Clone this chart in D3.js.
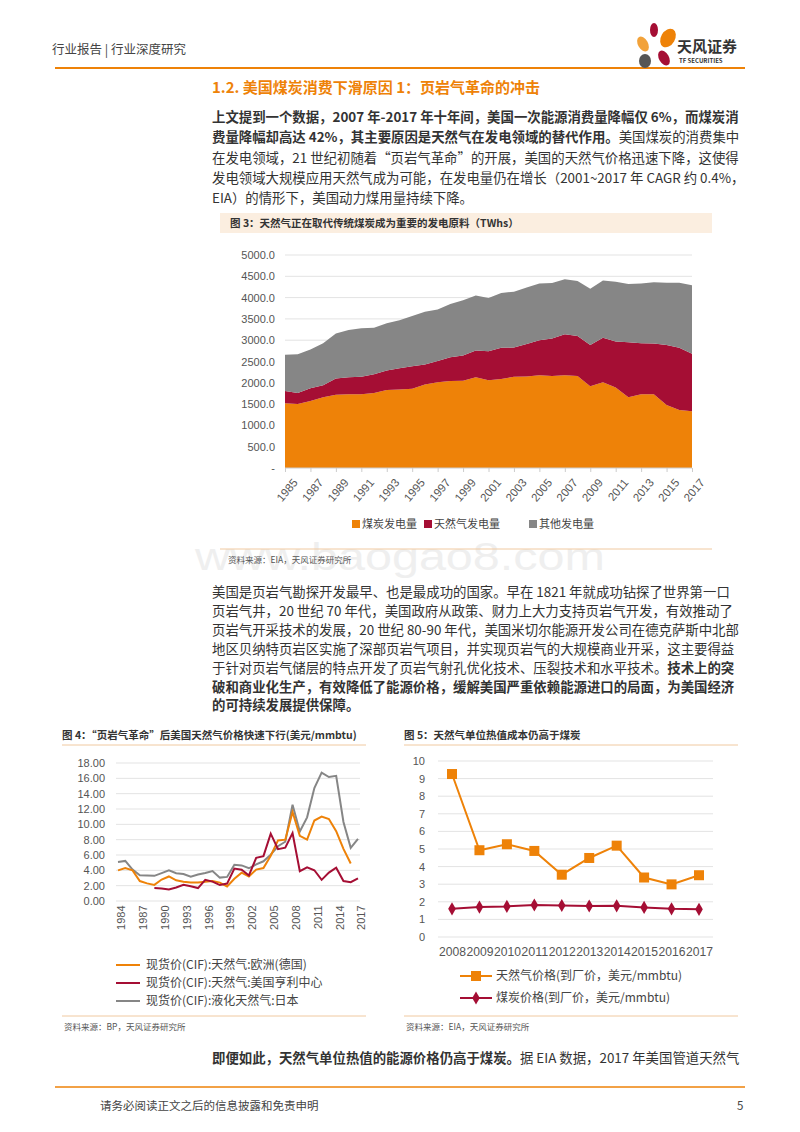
<!DOCTYPE html>
<html><head><meta charset="utf-8">
<script src="https://cdn.jsdelivr.net/npm/d3@7"></script>
<style>body{margin:0;background:#fff}svg{display:block;font-family:"Noto Sans CJK SC","Noto Sans",sans-serif}</style>
</head><body><svg id="p" width="800" height="1132"></svg>
<script>
// ---- Figure 3 data (TWh) ----
const years3 = d3.range(1985, 2018);
const coal = [1520,1500,1570,1660,1720,1730,1730,1760,1830,1840,1860,1960,2010,2040,2050,2130,2060,2090,2140,2150,2180,2160,2180,2160,1920,2010,1890,1660,1730,1730,1480,1360,1330];
const gas = [290,260,300,280,380,400,410,440,460,500,530,470,500,560,590,630,680,730,690,760,820,880,960,940,970,1050,1080,1290,1200,1190,1410,1460,1350];
const other = [850,910,910,990,1060,1110,1140,1090,1110,1130,1180,1240,1210,1250,1300,1290,1250,1290,1310,1330,1330,1300,1290,1290,1320,1340,1400,1370,1400,1440,1460,1530,1610];
const names3 = ["煤炭发电量","天然气发电量","其他发电量"];
const ticks3 = [0,500,1000,1500,2000,2500,3000,3500,4000,4500,5000];
// ---- Figure 4 data ($/mmbtu) ----
const years4 = d3.range(1984, 2018);
const europe = [4.0,4.3,4.0,2.6,2.3,2.1,2.8,3.2,2.7,2.5,2.4,2.4,2.5,2.6,2.4,1.9,2.9,3.7,3.2,4.1,4.3,5.9,7.9,8.0,11.6,8.5,8.0,10.5,11.0,10.7,9.1,6.8,4.9,null];
const henry = [null,null,null,null,null,1.70,1.64,1.49,1.77,2.12,1.92,1.69,2.76,2.53,2.08,2.27,4.23,4.07,3.33,5.63,5.85,8.79,6.76,6.95,8.85,3.89,4.39,4.01,2.76,3.71,4.35,2.60,2.46,2.96];
const japan = [5.10,5.23,4.10,3.35,3.34,3.28,3.64,3.99,3.62,3.52,3.18,3.46,3.66,3.91,3.05,3.14,4.72,4.64,4.27,4.77,5.18,6.05,7.14,7.73,12.55,9.06,10.91,14.73,16.75,16.17,16.33,10.31,6.94,8.10];
const names4 = ["现货价(CIF):天然气:欧洲(德国)","现货价(CIF):天然气:美国亨利中心","现货价(CIF):液化天然气:日本"];
// ---- Figure 5 data ----
const years5 = d3.range(2008, 2018);
const gasPrice = [9.26,4.93,5.27,4.89,3.54,4.49,5.19,3.38,2.99,3.51];
const coalPrice = [1.60,1.70,1.74,1.82,1.79,1.76,1.77,1.68,1.60,1.57];
const names5 = ["天然气价格(到厂价，美元/mmbtu)","煤炭价格(到厂价，美元/mmbtu)"];

const ORANGE="#ee8208", RED="#a50e34", GREY="#868686", TXT="#333";
const svg = d3.select("#p");
function text(x,y,s,o={}){const t=svg.append("text").attr("x",x).attr("y",y).attr("font-size",o.size||13).attr("fill",o.fill||TXT).attr("text-anchor",o.anchor||"start").text(s);if(o.bold)t.attr("font-weight","bold");return t;}
function rich(x,y,parts,size=13.4){const t=svg.append("text").attr("x",x).attr("y",y).attr("font-size",size).attr("fill",TXT);parts.forEach(p=>t.append("tspan").attr("font-weight",p[1]?"bold":"normal").text(p[0]));}

// header
text(52,54,"行业报告 | 行业深度研究",{size:12.5,fill:"#444"});
svg.append("line").attr("x1",55).attr("x2",745).attr("y1",68).attr("y2",68).attr("stroke",ORANGE).attr("stroke-width",2);
const lg=svg.append("g");
lg.append("ellipse").attr("cx",643).attr("cy",44).attr("rx",5).attr("ry",8).attr("fill","#f2a23a").attr("transform","rotate(-30,643,44)");
lg.append("ellipse").attr("cx",654).attr("cy",30).attr("rx",4).attr("ry",7).attr("fill",RED);
lg.append("ellipse").attr("cx",668).attr("cy",38).attr("rx",7).attr("ry",10).attr("fill",ORANGE).attr("transform","rotate(30,668,38)");
lg.append("ellipse").attr("cx",645).attr("cy",61).attr("rx",6).attr("ry",7).attr("fill","#555");
lg.append("ellipse").attr("cx",664).attr("cy",58).attr("rx",5).attr("ry",8).attr("fill",RED).attr("transform","rotate(-30,664,58)");
text(677,52,"天风证券",{size:15,bold:true,fill:"#333"});
text(679,63,"TF SECURITIES",{size:6,bold:true,fill:"#333"});
text(212,93,"1.2. 美国煤炭消费下滑原因 1：页岩气革命的冲击",{size:15,bold:true,fill:ORANGE});

rich(212,122,[["上文提到一个数据，2007 年-2017 年十年间，美国一次能源消费量降幅仅 6%，而煤炭消",1]]);
rich(212,142,[["费量降幅却高达 42%，其主要原因是天然气在发电领域的替代作用。",1],["美国煤炭的消费集中",0]]);
rich(212,163,[["在发电领域，21 世纪初随着“页岩气革命”的开展，美国的天然气价格迅速下降，这使得",0]]);
rich(212,183,[["发电领域大规模应用天然气成为可能，在发电量仍在增长（2001~2017 年 CAGR 约 0.4%，",0]]);
rich(212,203,[["EIA）的情形下，美国动力煤用量持续下降。",0]]);

svg.append("rect").attr("x",220).attr("y",213).attr("width",492).attr("height",20).attr("fill","#fbeee0");
text(230,227,"图 3：天然气正在取代传统煤炭成为重要的发电原料（TWhs）",{size:10.5,bold:true,fill:"#333"});

// watermark (behind)
text(400,570,"www.baogao8.com",{size:38,fill:"#efefef",anchor:"middle"}).attr("font-family","Liberation Sans, Arial").attr("textLength",410).attr("lengthAdjust","spacingAndGlyphs");

{
 const x=d3.scalePoint().domain(years3).range([285,692]);
 const y=d3.scaleLinear().domain([0,5000]).range([468,255]);
 const g=svg.append("g");
 g.selectAll(".gl").data(ticks3.slice(1)).join("line").attr("x1",285).attr("x2",692).attr("y1",d=>y(d)).attr("y2",d=>y(d)).attr("stroke","#e3e3e3");
 const rows=years3.map((yr,i)=>({yr,a:coal[i],b:gas[i],c:other[i]}));
 const st=d3.stack().keys(["a","b","c"])(rows);
 const area=d3.area().x(d=>x(d.data.yr)).y0(d=>y(d[0])).y1(d=>y(d[1]));
 const cols=[ORANGE,RED,GREY];
 g.selectAll(".ar").data(st).join("path").attr("d",area).attr("fill",(d,i)=>cols[i]);
 const ya=g.append("g").attr("transform","translate(278,0)").call(d3.axisLeft(y).tickValues(ticks3).tickSize(0).tickFormat(d=>d===0?"-":d.toFixed(1)));
 ya.select(".domain").remove(); ya.selectAll("text").attr("font-size",11).attr("fill","#555").attr("font-family","Liberation Sans, Arial");
 g.append("line").attr("x1",285).attr("x2",692).attr("y1",468).attr("y2",468).attr("stroke","#ccc");
 const xa=g.append("g").attr("transform","translate(0,468)").call(d3.axisBottom(x).tickValues(years3.filter(d=>d%2===1)).tickSize(4));
 xa.select(".domain").remove(); xa.selectAll("line").attr("stroke","#ccc");
 xa.selectAll("text").attr("font-size",11.5).attr("fill","#555").attr("font-family","Liberation Sans, Arial").attr("text-anchor","end").attr("transform","translate(6,6) rotate(-50)").attr("dy","0.35em").attr("dx","-0.2em");
 const lx=[352,424,529];
 names3.forEach((n,i)=>{svg.append("rect").attr("x",lx[i]).attr("y",520).attr("width",8).attr("height",8).attr("fill",cols[i]);text(lx[i]+10,528,n,{size:11,fill:"#444"});});
}
svg.append("line").attr("x1",220).attr("x2",712).attr("y1",549).attr("y2",549).attr("stroke","#f0c9a0");
text(228,563,"资料来源：EIA，天风证券研究所",{size:8.5,fill:"#555"});

const p2=[[["美国是页岩气勘探开发最早、也是最成功的国家。早在 1821 年就成功钻探了世界第一口",0]],
[["页岩气井，20 世纪 70 年代，美国政府从政策、财力上大力支持页岩气开发，有效推动了",0]],
[["页岩气开采技术的发展，20 世纪 80-90 年代，美国米切尔能源开发公司在德克萨斯中北部",0]],
[["地区贝纳特页岩区实施了深部页岩气项目，并实现页岩气的大规模商业开采，这主要得益",0]],
[["于针对页岩气储层的特点开发了页岩气射孔优化技术、压裂技术和水平技术。",0],["技术上的突",1]],
[["破和商业化生产，有效降低了能源价格，缓解美国严重依赖能源进口的局面，为美国经济",1]],
[["的可持续发展提供保障。",1]]];
p2.forEach((l,i)=>rich(212,597+i*18.9,l));

text(62,739,"图 4：“页岩气革命”后美国天然气价格快速下行(美元/mmbtu)",{size:10.5,bold:true,fill:"#333"});
text(404,739,"图 5：天然气单位热值成本仍高于煤炭",{size:10.5,bold:true,fill:"#333"});
svg.append("line").attr("x1",62).attr("x2",366).attr("y1",745).attr("y2",745).attr("stroke","#f0c9a0");
svg.append("line").attr("x1",404).attr("x2",738).attr("y1",745).attr("y2",745).attr("stroke","#f0c9a0");

{
 const x=d3.scalePoint().domain(years4).range([118,358]);
 const y=d3.scaleLinear().domain([0,18]).range([901,763]);
 const g=svg.append("g");
 const tk=d3.range(0,19,2);
 g.selectAll(".gl").data(tk).join("line").attr("x1",116).attr("x2",360).attr("y1",d=>y(d)).attr("y2",d=>y(d)).attr("stroke","#e3e3e3");
 const ya=g.append("g").attr("transform","translate(108,0)").call(d3.axisLeft(y).tickValues(tk).tickSize(0).tickFormat(d=>d.toFixed(2)));
 ya.select(".domain").remove(); ya.selectAll("text").attr("font-size",11).attr("fill","#555").attr("font-family","Liberation Sans, Arial");
 const xa=g.append("g").attr("transform","translate(0,901)").call(d3.axisBottom(x).tickValues(years4.filter(d=>(d-1984)%3===0)).tickSize(0));
 xa.select(".domain").remove();
 xa.selectAll("text").attr("font-size",11).attr("fill","#555").attr("font-family","Liberation Sans, Arial").attr("text-anchor","end").attr("transform","rotate(-90)").attr("dx","-0.4em").attr("dy","0.35em");
 const ser=[[europe,ORANGE],[henry,RED],[japan,GREY]];
 const line=d3.line().defined(d=>d[1]!=null).x(d=>x(d[0])).y(d=>y(d[1]));
 [2,0,1].forEach(k=>{const [v,c]=ser[k];g.append("path").attr("d",line(years4.map((yr,i)=>[yr,v[i]]))).attr("fill","none").attr("stroke",c).attr("stroke-width",2);});
 names4.forEach((n,i)=>{const yy=965+i*18;svg.append("line").attr("x1",116).attr("x2",140).attr("y1",yy).attr("y2",yy).attr("stroke",ser[i][1]).attr("stroke-width",2);text(146,yy+4,n,{size:12,fill:"#444"});});
}
{
 const x=d3.scalePoint().domain(years5).range([452,699]);
 const y=d3.scaleLinear().domain([0,10]).range([937,761]);
 const g=svg.append("g");
 const tk=d3.range(0,11);
 g.selectAll(".gl").data(tk).join("line").attr("x1",438).attr("x2",713).attr("y1",d=>y(d)).attr("y2",d=>y(d)).attr("stroke","#e3e3e3");
 const ya=g.append("g").attr("transform","translate(428,0)").call(d3.axisLeft(y).tickValues(tk).tickSize(0));
 ya.select(".domain").remove(); ya.selectAll("text").attr("font-size",11).attr("fill","#555").attr("font-family","Liberation Sans, Arial");
 const xa=g.append("g").attr("transform","translate(0,944)").call(d3.axisBottom(x).tickSize(0));
 xa.select(".domain").remove();
 xa.selectAll("text").attr("font-size",12).attr("fill","#555").attr("font-family","Liberation Sans, Arial").attr("textLength",27).attr("lengthAdjust","spacingAndGlyphs");
 const line=d3.line().x(d=>x(d[0])).y(d=>y(d[1]));
 g.append("path").attr("d",line(years5.map((yr,i)=>[yr,coalPrice[i]]))).attr("fill","none").attr("stroke",RED).attr("stroke-width",2);
 g.selectAll(".dm").data(years5).join("path").attr("d",d3.symbol(d3.symbolDiamond,50)).attr("transform",(d,i)=>`translate(${x(d)},${y(coalPrice[i])})`).attr("fill",RED);
 g.append("path").attr("d",line(years5.map((yr,i)=>[yr,gasPrice[i]]))).attr("fill","none").attr("stroke",ORANGE).attr("stroke-width",2);
 g.selectAll(".sq").data(years5).join("rect").attr("x",d=>x(d)-5).attr("y",(d,i)=>y(gasPrice[i])-5).attr("width",10).attr("height",10).attr("fill",ORANGE);
 svg.append("line").attr("x1",460).attr("x2",492).attr("y1",976).attr("y2",976).attr("stroke",ORANGE).attr("stroke-width",2);
 svg.append("rect").attr("x",471).attr("y",971).attr("width",10).attr("height",10).attr("fill",ORANGE);
 text(496,980,names5[0],{size:12,fill:"#444"});
 svg.append("line").attr("x1",460).attr("x2",492).attr("y1",998).attr("y2",998).attr("stroke",RED).attr("stroke-width",2);
 svg.append("path").attr("d",d3.symbol(d3.symbolDiamond,50)).attr("transform","translate(476,998)").attr("fill",RED);
 text(496,1002,names5[1],{size:12,fill:"#444"});
}
svg.append("line").attr("x1",62).attr("x2",366).attr("y1",1016).attr("y2",1016).attr("stroke","#f0c9a0");
svg.append("line").attr("x1",404).attr("x2",738).attr("y1",1016).attr("y2",1016).attr("stroke","#f0c9a0");
text(64,1030,"资料来源：BP，天风证券研究所",{size:8.5,fill:"#555"});
text(406,1030,"资料来源：EIA，天风证券研究所",{size:8.5,fill:"#555"});
rich(212,1063,[["即便如此，天然气单位热值的能源价格仍高于煤炭。",1],["据 EIA 数据，2017 年美国管道天然气",0]]);
svg.append("line").attr("x1",55).attr("x2",745).attr("y1",1087).attr("y2",1087).attr("stroke",ORANGE).attr("stroke-width",1.5);
text(100,1110,"请务必阅读正文之后的信息披露和免责申明",{size:11.5,fill:"#444"});
text(737,1110,"5",{size:11.5,fill:"#444"});
</script></body></html>
